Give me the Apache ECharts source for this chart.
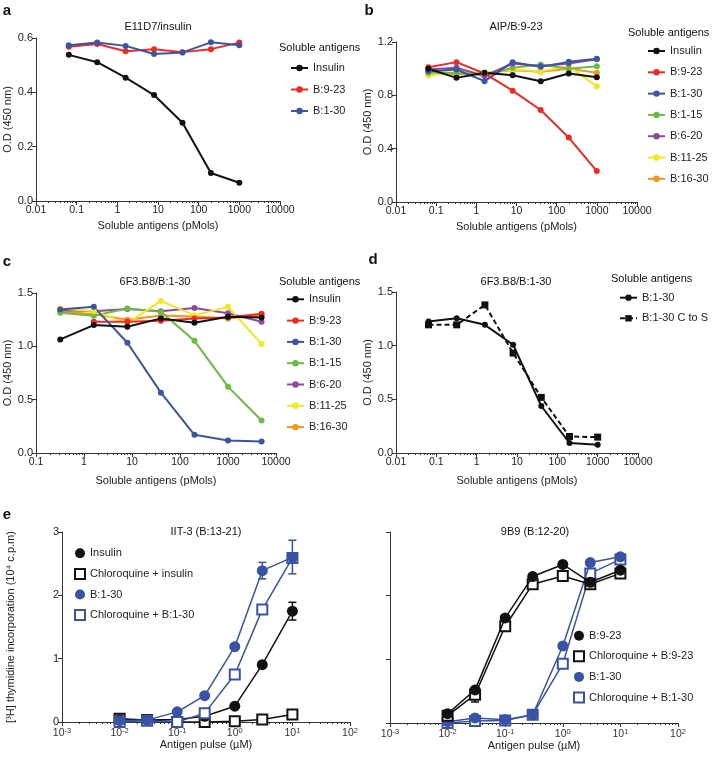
<!DOCTYPE html>
<html>
<head>
<meta charset="utf-8">
<script src="https://cdn.jsdelivr.net/npm/echarts@6/dist/echarts.min.js"></script>
<style>
html,body{margin:0;padding:0;background:#fff;}
#chart{width:712px;height:763px;}
</style>
</head>
<body>
<div id="chart"></div>
<script>
// ---------- data ----------
var dilX = [0.064, 0.32, 1.6, 8, 40, 200, 1000];
var cX = [0.32, 1.6, 8, 40, 200, 1000, 5000];
var eX = [0.01, 0.03, 0.1, 0.3, 1, 3, 10];

var aInsulin = [0.538, 0.511, 0.454, 0.39, 0.288, 0.103, 0.067];
var aB923 = [0.568, 0.578, 0.551, 0.559, 0.548, 0.559, 0.583];
var aB130 = [0.573, 0.583, 0.571, 0.541, 0.547, 0.584, 0.573];

var bInsulin = [0.999, 0.931, 0.969, 0.951, 0.906, 0.964, 0.936];
var bB923 = [1.011, 1.049, 0.964, 0.835, 0.69, 0.483, 0.232];
var bB130 = [0.981, 0.994, 0.906, 1.049, 1.014, 1.051, 1.075];
var bB115 = [0.969, 0.969, 0.95, 1.007, 1.032, 0.999, 1.019];
var bB620 = [0.994, 1.007, 0.945, 1.039, 1.019, 1.039, 1.07];
var bB1125 = [0.949, 0.974, 0.969, 0.994, 0.981, 1.019, 0.868];
var bB1630 = [0.981, 0.956, 0.969, 0.989, 0.976, 0.999, 0.969];

var cInsulin = [1.065, 1.199, 1.183, 1.262, 1.221, 1.277, 1.271];
var cB923 = [null, 1.23, 1.23, 1.24, 1.26, 1.27, 1.305];
var cB130 = [1.346, 1.37, 1.034, 0.566, 0.171, 0.118, 0.108];
var cB115 = [1.314, 1.286, 1.355, 1.323, 1.052, 0.622, 0.305];
var cB620 = [1.34, 1.33, 1.35, 1.33, 1.36, 1.31, 1.23];
var cB1125 = [1.355, 1.33, 1.215, 1.426, 1.29, 1.37, 1.021];
var cB1630 = [1.33, 1.3, 1.25, 1.29, 1.28, 1.26, 1.29];

var dB130 = [1.225, 1.256, 1.194, 1.009, 0.438, 0.093, 0.077];
var dCtoS = [1.194, 1.194, 1.38, 0.931, 0.518, 0.154, 0.148];

var eInsulin = [0.036, 0.03, 0.04, 0.09, 0.25, 0.905, 1.75];
var eChloroInsulin = [0.05, 0.03, 0.0, 0.0, 0.01, 0.04, 0.12];
var eB130L = [0.02, 0.03, 0.16, 0.415, 1.19, 2.39, 2.6];
var eChloroB130L = [0.0, 0.02, 0.0, 0.14, 0.75, 1.775, 2.59];
var eErrInsulin = [[10, 1.61, 1.89]];
var eErrB130L = [[3, 2.26, 2.52], [10, 2.34, 2.87]];

var eB923 = [0.146, 0.52, 1.65, 2.3, 2.49, 2.21, 2.4];
var eChloroB923 = [0.115, 0.445, 1.52, 2.18, 2.31, 2.18, 2.35];
var eB130R = [0.02, 0.08, 0.05, 0.13, 1.21, 2.52, 2.61];
var eChloroB130R = [0.0, 0.03, 0.04, 0.13, 0.93, 2.35, 2.57];
var eErrChloroB923 = [[0.03, 0.33, 0.445]];
var eErrB923 = [[10, 2.3, 2.5]];

var tickLabelsPM = {'-2':'0.01','-1':'0.1','0':'1','1':'10','2':'100','3':'1000','4':'10000'};
var tickExpE = {'-3':'-3','-2':'-2','-1':'-1','0':'0','1':'1','2':'2'};

// ---------- styling helpers ----------
var FONT = 'Liberation Sans, Arial, sans-serif';
var AX = '#333';
var C = {black:'#111111', red:'#ee2a24', blue:'#3b55a5', green:'#6cbb45', purple:'#8d4a9d', yellow:'#f2e81a', orange:'#f7941e', eblue:'#3a52a3'};

function pairs(xs, ys){ var o=[]; for(var i=0;i<xs.length;i++){ o.push([xs[i], ys[i]]); } return o; }

function logX(gi, min, max, name, gap, fmt){
  return {
    type:'log', logBase:10, gridIndex:gi, min:min, max:max, splitNumber:6,
    name:name, nameLocation:'middle', nameGap:gap,
    nameTextStyle:{fontFamily:FONT, fontSize:11, color:'#222'},
    axisLine:{show:true, lineStyle:{color:AX, width:1}},
    axisTick:{show:true, length:4, lineStyle:{color:AX}},
    minorTick:{show:true, splitNumber:9, length:2, lineStyle:{color:AX}},
    splitLine:{show:false}, minorSplitLine:{show:false},
    axisLabel:fmt
  };
}
function pmLabel(){
  return {fontFamily:FONT, fontSize:10.5, color:'#222', margin:4,
    formatter:function(v){ var e=Math.round(Math.log10(v)); return tickLabelsPM[String(e)] || ''; }};
}
function eLabel(){
  return {fontFamily:FONT, fontSize:10.5, color:'#333', margin:5,
    formatter:function(v){ var e=Math.round(Math.log10(v)); return '10{s|'+tickExpE[String(e)]+'}'; },
    rich:{s:{fontSize:7.5, verticalAlign:'top', padding:[0,0,5,0], fontFamily:FONT, color:'#333'}}};
}
function linY(gi, max, interval, name, gap, showLabel){
  return {
    type:'value', gridIndex:gi, min:0, max:max, interval:interval,
    name:name, nameLocation:'middle', nameGap:gap,
    nameTextStyle:{fontFamily:FONT, fontSize:11, color:'#222'},
    axisLine:{show:true, lineStyle:{color:AX, width:1}},
    axisTick:{show:true, length:4, lineStyle:{color:AX}},
    splitLine:{show:false},
    axisLabel:{show:showLabel!==false, fontFamily:FONT, fontSize:11, color:'#222', margin:3,
      formatter:function(v){ return interval>=1 ? String(v) : v.toFixed(1); }}
  };
}
function ln(name, gi, xs, ys, color, extra){
  var s = {type:'line', name:name, xAxisIndex:gi, yAxisIndex:gi, data:pairs(xs, ys),
    symbol:'circle', symbolSize:6, connectNulls:true,
    lineStyle:{color:color, width:2}, itemStyle:{color:color}, emphasis:{disabled:true}, animation:false};
  if(extra){ for(var k in extra){ s[k]=extra[k]; } }
  return s;
}
function eln(name, gi, xs, ys, color, hollow, z){
  return {type:'line', name:name, xAxisIndex:gi, yAxisIndex:gi, data:pairs(xs, ys),
    symbol: hollow ? 'emptyRect' : 'circle', symbolSize: hollow ? 10 : 11,
    lineStyle:{color:color, width:1.5},
    itemStyle:{color:color, borderColor:color, borderWidth: hollow ? 1.6 : 0},
    z:z, emphasis:{disabled:true}, animation:false};
}
function errRender(color){
  return function(params, api){
    var x=api.value(0), lo=api.value(1), hi=api.value(2);
    var p1=api.coord([x, lo]), p2=api.coord([x, hi]);
    var w=4;
    var st={stroke:color, lineWidth:1.5};
    return {type:'group', children:[
      {type:'line', shape:{x1:p1[0], y1:p1[1], x2:p2[0], y2:p2[1]}, style:st},
      {type:'line', shape:{x1:p1[0]-w, y1:p1[1], x2:p1[0]+w, y2:p1[1]}, style:st},
      {type:'line', shape:{x1:p2[0]-w, y1:p2[1], x2:p2[0]+w, y2:p2[1]}, style:st}
    ]};
  };
}
function errSeries(gi, data, color, z){
  return {type:'custom', xAxisIndex:gi, yAxisIndex:gi, data:data, renderItem:errRender(color),
    encode:{x:0, y:[1,2]}, z:z, silent:true, animation:false};
}
function legendBox(left, top, names, gap, opts){
  var l = {left:left, top:top, orient:'vertical', padding:0, itemGap:gap,
    itemWidth:17, itemHeight:8, selectedMode:false,
    textStyle:{fontFamily:FONT, fontSize:11, color:'#222', lineHeight:13},
    data:names};
  if(opts){ for(var k in opts){ l[k]=opts[k]; } }
  return l;
}
function txt(x, y, s, size, weight, align){
  return {type:'text', x:x, y:y, silent:true,
    style:{text:s, fill:'#111', font:(weight||'normal')+' '+size+'px '+FONT, textAlign:align||'center', textVerticalAlign:'middle'}};
}

var chart = echarts.init(document.getElementById('chart'), null, {renderer:'canvas'});

var option = {
  animation:false,
  backgroundColor:'#fff',
  grid:[
    {left:36, top:38, width:244, height:163},
    {left:396, top:42, width:241, height:160},
    {left:36, top:293, width:240, height:160},
    {left:396, top:292, width:242, height:161},
    {left:62, top:532, width:288, height:190},
    {left:390, top:532, width:288, height:191}
  ],
  xAxis:[
    logX(0, 0.01, 10000, 'Soluble antigens (pMols)', 19, pmLabel()),
    logX(1, 0.01, 10000, 'Soluble antigens (pMols)', 19, pmLabel()),
    logX(2, 0.1, 10000, 'Soluble antigens (pMols)', 22, pmLabel()),
    logX(3, 0.01, 10000, 'Soluble antigens (pMols)', 22, pmLabel()),
    logX(4, 0.001, 100, 'Antigen pulse (µM)', 17, eLabel()),
    logX(5, 0.001, 100, 'Antigen pulse (µM)', 17, eLabel())
  ],
  yAxis:[
    linY(0, 0.6, 0.2, 'O.D (450 nm)', 18),
    linY(1, 1.2, 0.4, 'O.D (450 nm)', 18),
    linY(2, 1.5, 0.5, 'O.D (450 nm)', 18),
    linY(3, 1.5, 0.5, 'O.D (450 nm)', 18),
    linY(4, 3, 1, '[³H] thymidine incorporation (10⁴ c.p.m)', 46),
    linY(5, 3, 1, '', 10, false)
  ],
  legend:[
    legendBox(290, 61.5, ['Insulin','B:9-23','B:1-30'], 8.5),
    legendBox(647, 44.5, ['Insulin','B:9-23','B:1-30','B:1-15','B:6-20','B:11-25','B:16-30'], 8.3),
    legendBox(286, 292.8, ['Insulin','B:9-23','B:1-30','B:1-15','B:6-20','B:11-25','B:16-30'], 8.3),
    legendBox(619, 291.2, ['B:1-30 ','B:1-30 C to S'], 7.6),
    legendBox(74, 546.8, [
      {name:'Insulin ', icon:'circle'},
      {name:'Chloroquine + insulin', icon:'emptyRect'},
      {name:'B:1-30  ', icon:'circle'},
      {name:'Chloroquine + B:1-30 ', icon:'emptyRect'}
    ], 7.6, {itemWidth:10, itemHeight:10, textStyle:{fontFamily:FONT, fontSize:11, color:'#222', lineHeight:13}}),
    legendBox(573, 629.2, [
      {name:'B:9-23 ', icon:'circle'},
      {name:'Chloroquine + B:9-23', icon:'emptyRect'},
      {name:'B:1-30   ', icon:'circle'},
      {name:'Chloroquine + B:1-30  ', icon:'emptyRect'}
    ], 7.6, {itemWidth:10, itemHeight:10, textStyle:{fontFamily:FONT, fontSize:11, color:'#222', lineHeight:13}})
  ],
  series:[
    // a
    ln('Insulin', 0, dilX, aInsulin, C.black),
    ln('B:9-23', 0, dilX, aB923, C.red),
    ln('B:1-30', 0, dilX, aB130, C.blue),
    // b
    ln('B:16-30', 1, dilX, bB1630, C.orange),
    ln('B:11-25', 1, dilX, bB1125, C.yellow),
    ln('B:1-15', 1, dilX, bB115, C.green),
    ln('B:6-20', 1, dilX, bB620, C.purple),
    ln('B:1-30', 1, dilX, bB130, C.blue),
    ln('B:9-23', 1, dilX, bB923, C.red),
    ln('Insulin', 1, dilX, bInsulin, C.black),
    // c
    ln('B:16-30', 2, cX, cB1630, C.orange),
    ln('B:6-20', 2, cX, cB620, C.purple),
    ln('B:1-15', 2, cX, cB115, C.green),
    ln('B:11-25', 2, cX, cB1125, C.yellow),
    ln('B:9-23', 2, cX, cB923, C.red),
    ln('B:1-30', 2, cX, cB130, C.blue),
    ln('Insulin', 2, cX, cInsulin, C.black),
    // d
    ln('B:1-30 ', 3, dilX, dB130, C.black),
    ln('B:1-30 C to S', 3, dilX, dCtoS, C.black, {symbol:'rect', symbolSize:7, lineStyle:{color:C.black, width:2, type:[5,3]}}),
    // e left
    errSeries(4, eErrInsulin, C.black, 1),
    errSeries(4, eErrB130L, C.eblue, 1),
    eln('Chloroquine + insulin', 4, eX, eChloroInsulin, C.black, true, 2),
    eln('Insulin ', 4, eX, eInsulin, C.black, false, 3),
    eln('Chloroquine + B:1-30 ', 4, eX, eChloroB130L, C.eblue, true, 4),
    eln('B:1-30  ', 4, eX, eB130L, C.eblue, false, 5),
    // e right
    errSeries(5, eErrChloroB923, C.black, 1),
    errSeries(5, eErrB923, C.black, 1),
    eln('Chloroquine + B:1-30  ', 5, eX, eChloroB130R, C.eblue, true, 2),
    eln('B:1-30   ', 5, eX, eB130R, C.eblue, false, 3),
    eln('Chloroquine + B:9-23', 5, eX, eChloroB923, C.black, true, 4),
    eln('B:9-23 ', 5, eX, eB923, C.black, false, 5)
  ],
  graphic:[
    txt(7, 11, 'a', 15, 'bold'),
    txt(369, 11, 'b', 15, 'bold'),
    txt(7, 262, 'c', 15, 'bold'),
    txt(373, 260, 'd', 15, 'bold'),
    txt(7, 515, 'e', 15, 'bold'),
    txt(158, 27, 'E11D7/insulin', 11),
    txt(516, 27, 'AIP/B:9-23', 11),
    txt(155, 282, '6F3.B8/B:1-30', 11),
    txt(516, 282, '6F3.B8/B:1-30', 11),
    txt(206, 532, 'IIT-3 (B:13-21)', 11),
    txt(535, 532, '9B9 (B:12-20)', 11),
    txt(279, 48, 'Soluble antigens', 11, 'normal', 'left'),
    txt(628, 33, 'Soluble antigens', 11, 'normal', 'left'),
    txt(279, 282, 'Soluble antigens', 11, 'normal', 'left'),
    txt(611, 279, 'Soluble antigens', 11, 'normal', 'left')
  ]
};
chart.setOption(option);
</script>
</body>
</html>
